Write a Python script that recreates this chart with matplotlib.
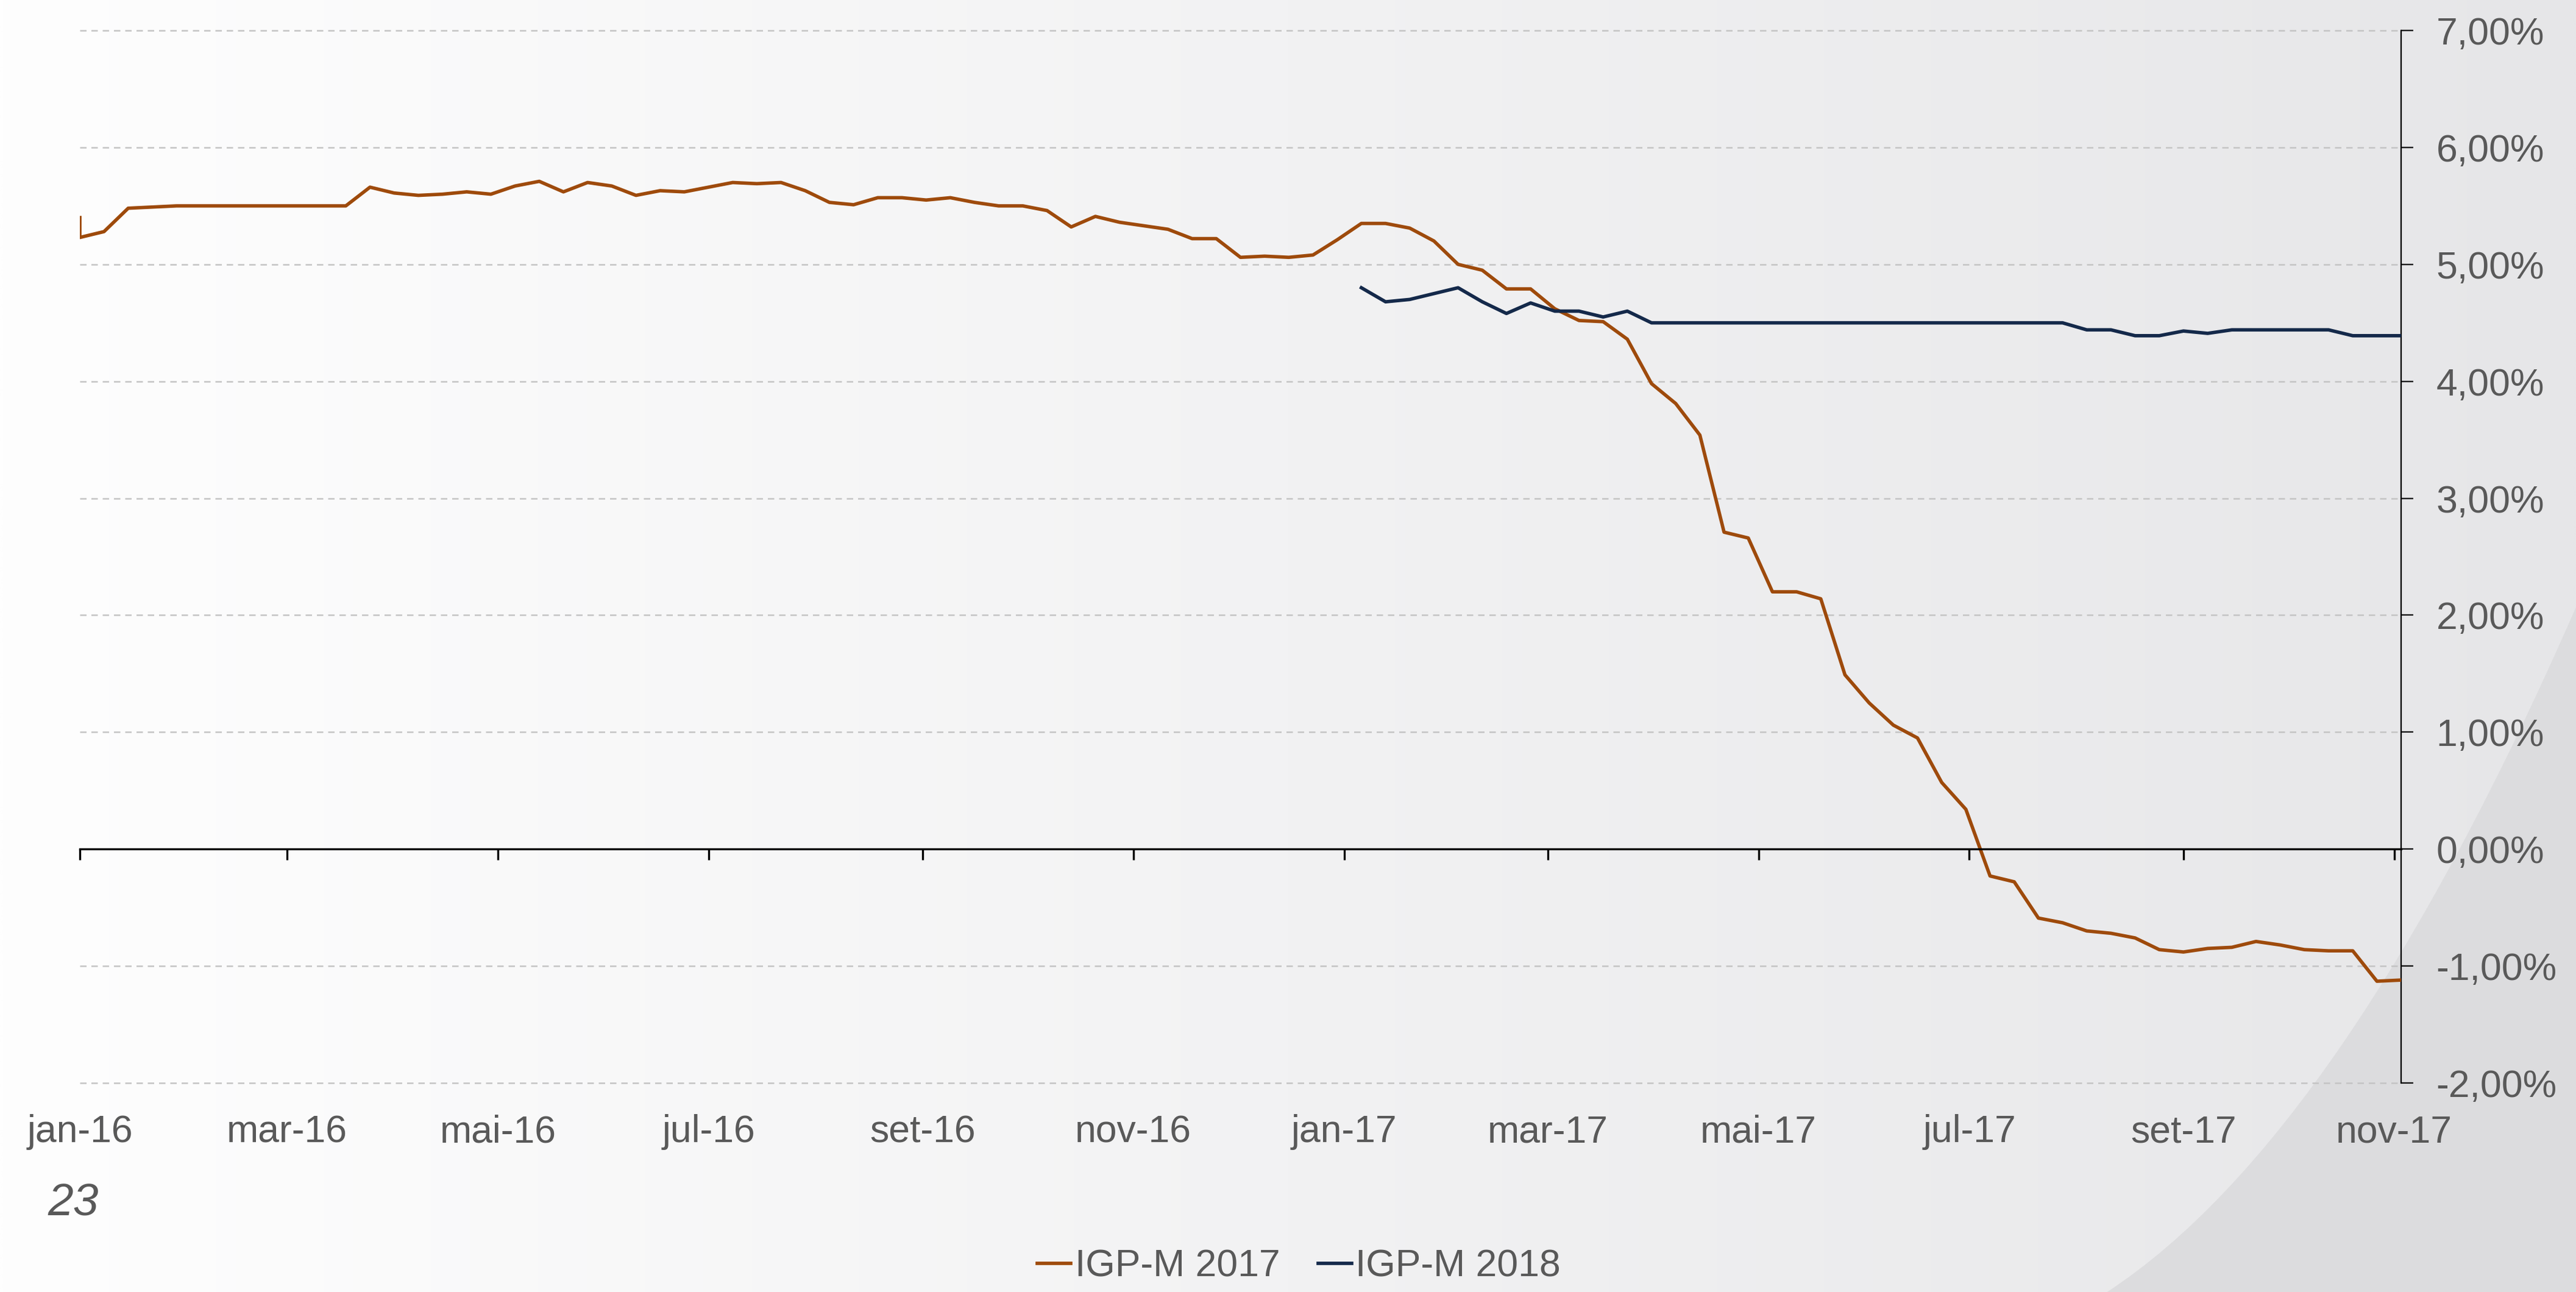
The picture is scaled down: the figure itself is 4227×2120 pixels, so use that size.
import numpy as np
import pandas as pd
import matplotlib
matplotlib.use("Agg")
import matplotlib.pyplot as plt
from matplotlib.path import Path
from matplotlib.patches import PathPatch

plt.rcParams['font.family'] = ['Liberation Sans', 'DejaVu Sans']

# ---------------- data ----------------
weeks = pd.date_range('2016-01-01', '2017-11-03', freq='7D')   # weekly Focus surveys (97)

# IGP-M 2017 expectation (first value is the start-of-series quirk on the same date)
dates_2017 = [pd.Timestamp('2016-01-01')] + list(weeks)
igpm_2017 = [5.40,
             5.23, 5.28, 5.48, 5.49, 5.50, 5.50, 5.50, 5.50, 5.50, 5.50,
             5.50, 5.50, 5.66, 5.61, 5.59, 5.60, 5.62, 5.60, 5.67, 5.71,
             5.62, 5.70, 5.67, 5.59, 5.63, 5.62, 5.66, 5.70, 5.69, 5.70,
             5.63, 5.53, 5.51, 5.57, 5.57, 5.55, 5.57, 5.53, 5.50, 5.50,
             5.46, 5.32, 5.41, 5.36, 5.33, 5.30, 5.22, 5.22, 5.06, 5.07,
             5.06, 5.08, 5.21, 5.35, 5.35, 5.31, 5.20, 5.00, 4.95, 4.79,
             4.79, 4.62, 4.52, 4.51, 4.36, 3.98, 3.81, 3.54, 2.71, 2.66,
             2.20, 2.20, 2.14, 1.49, 1.25, 1.06, 0.95, 0.57, 0.34, -0.23,
             -0.28, -0.59, -0.63, -0.70, -0.72, -0.76, -0.86, -0.88, -0.85, -0.84,
             -0.79, -0.82, -0.86, -0.87, -0.87, -1.13, -1.12]

# IGP-M 2018 expectation (starts in January 2017)
dates_2018 = list(weeks[53:])
igpm_2018 = [4.80, 4.68, 4.70, 4.75, 4.80, 4.68, 4.58, 4.67, 4.60, 4.60,
             4.55, 4.60, 4.50, 4.50, 4.50, 4.50, 4.50, 4.50, 4.50, 4.50,
             4.50, 4.50, 4.50, 4.50, 4.50, 4.50, 4.50, 4.50, 4.50, 4.50,
             4.44, 4.44, 4.39, 4.39, 4.43, 4.41, 4.44, 4.44, 4.44, 4.44,
             4.44, 4.39, 4.39, 4.39]

series_names = ['IGP-M 2017', 'IGP-M 2018']
series_colors = ['#9E4A0B', '#14294A']

x_tick_dates = list(pd.date_range('2016-01-01', '2017-11-01', freq='2MS'))
x_tick_labels = ['jan-16', 'mar-16', 'mai-16', 'jul-16', 'set-16', 'nov-16',
                 'jan-17', 'mar-17', 'mai-17', 'jul-17', 'set-17', 'nov-17']
y_ticks = [-2, -1, 0, 1, 2, 3, 4, 5, 6, 7]
y_tick_labels = ['-2,00%', '-1,00%', '0,00%', '1,00%', '2,00%', '3,00%',
                 '4,00%', '5,00%', '6,00%', '7,00%']
page_number = '23'

# ---------------- figure ----------------
W, H, DPI = 4227, 2120, 300
fig = plt.figure(figsize=(W / DPI, H / DPI), dpi=DPI)

# slide background: horizontal light gradient + grey swoosh at lower right
bg = fig.add_axes([0, 0, 1, 1], zorder=0)
bg.set_axis_off()
t = np.linspace(0, 1, 600)
c0 = np.array([254, 254, 254]) / 255
c1 = np.array([230, 230, 232]) / 255
img = c0[None, None, :] * (1 - t[None, :, None]) + c1[None, None, :] * t[None, :, None]
img = np.repeat(img, 4, axis=0)
bg.imshow(img, extent=[0, 1, 0, 1], aspect='auto', interpolation='bilinear')
bg.set_xlim(0, 1)
bg.set_ylim(0, 1)
verts = [(0.818, 0.0), (0.91, 0.12), (1.0, 0.53), (1.0, 0.0), (0.818, 0.0)]
codes = [Path.MOVETO, Path.CURVE3, Path.CURVE3, Path.LINETO, Path.CLOSEPOLY]
bg.add_patch(PathPatch(Path(verts, codes), facecolor='#DCDCDE', edgecolor='none'))

# chart axes
left, right = 131 / W, 3940 / W
bottom, top = 1 - 1777 / H, 1 - 50 / H
ax = fig.add_axes([left, bottom, right - left, top - bottom], zorder=1)
ax.patch.set_alpha(0)

ax.plot(dates_2017, igpm_2017, color=series_colors[0], lw=1.35, label=series_names[0], zorder=3)
ax.plot(dates_2018, igpm_2018, color=series_colors[1], lw=1.35, label=series_names[1], zorder=3)

ax.set_xlim(weeks[0], weeks[-1])
ax.set_ylim(-2, 7)

for s in ['left', 'top']:
    ax.spines[s].set_visible(False)
ax.spines['bottom'].set_position(('data', 0))
ax.spines['bottom'].set_linewidth(0.8)
ax.spines['bottom'].set_zorder(4)
ax.spines['right'].set_linewidth(0.55)

ax.set_xticks(x_tick_dates, x_tick_labels)
ax.yaxis.tick_right()
ax.set_yticks(y_ticks, y_tick_labels)

ax.tick_params(axis='x', direction='out', length=4.4, width=0.8, pad=100,
               labelsize=15, labelcolor='#595959', color='black')
ax.tick_params(axis='y', direction='out', length=4.8, width=0.55, pad=9,
               labelsize=15, labelcolor='#595959', color='black',
               right=True, left=False)

ax.set_axisbelow(True)
ax.grid(axis='y', color='#C4C4C4', lw=0.6, linestyle=(0, (4.2, 3.2)))
ax.grid(axis='x', visible=False)
for gl in ax.get_ygridlines():
    gl.set_clip_on(False)

# page number
fig.text(120 / W, 1 - 1975 / H, page_number, fontsize=18, style='italic',
         color='#595959', ha='center', va='center')

# legend
fig.legend(loc='center', bbox_to_anchor=(0.5043, 1 - 2078 / H), ncol=2,
           frameon=False, fontsize=15, handlelength=0.88, handletextpad=0.1,
           columnspacing=1.0, labelcolor='#595959', borderpad=0)

fig.savefig('out.png', dpi=DPI)
